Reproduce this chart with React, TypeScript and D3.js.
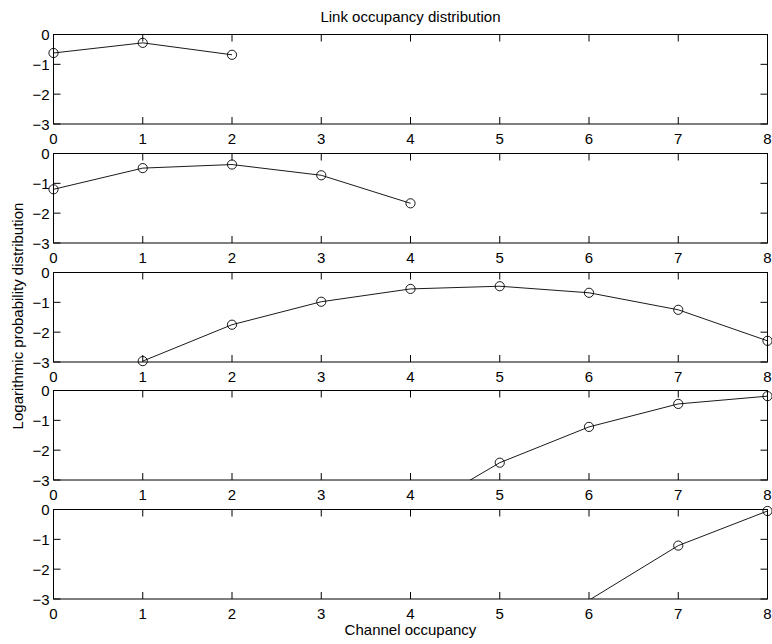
import React from 'react';
import * as d3 from 'd3';

// channel occupancy on x, log10 probability on y
const xTicks = [0, 1, 2, 3, 4, 5, 6, 7, 8];
const yTicks = [0, -1, -2, -3];

const occ1 = [0, 1, 2];
const prob1 = [-0.62, -0.28, -0.68];

const occ2 = [0, 1, 2, 3, 4];
const prob2 = [-1.2, -0.49, -0.37, -0.73, -1.67];

const occ3 = [1, 2, 3, 4, 5, 6, 7, 8];
const prob3 = [-2.97, -1.75, -0.98, -0.55, -0.46, -0.68, -1.25, -2.29];

const occ4 = [4, 5, 6, 7, 8];
const prob4 = [-4.18, -2.42, -1.22, -0.45, -0.19];

const occ5 = [6, 7, 8];
const prob5 = [-3.04, -1.21, -0.05];

const panels = [
  { xs: occ1, ys: prob1 },
  { xs: occ2, ys: prob2 },
  { xs: occ3, ys: prob3 },
  { xs: occ4, ys: prob4 },
  { xs: occ5, ys: prob5 },
];

const W = 772;
const H = 644;
const left = 53.5;
const right = 767.5;
const firstTop = 34;
const step = 118.75;
const panelH = 89.5;
const tickLen = 7;
const font = '"Liberation Sans", Arial, Helvetica, sans-serif';

const Panel: React.FC<{ idx: number; xs: number[]; ys: number[] }> = ({ idx, xs, ys }) => {
  const top = Math.round(firstTop + idx * step) + 0.5;
  const bottom = top + panelH;
  const x = d3.scaleLinear().domain([0, 8]).range([left, right]);
  const y = d3.scaleLinear().domain([-3, 0]).range([bottom, top]);
  const pts = xs.map((v, i) => [v, ys[i]] as [number, number]);
  const line = d3.line<[number, number]>()
    .x(d => x(d[0]))
    .y(d => y(d[1]));
  const clipId = `clip-${idx}`;

  return (
    <g>
      <defs>
        <clipPath id={clipId}>
          <rect x={left} y={top} width={right - left} height={bottom - top} />
        </clipPath>
      </defs>
      <rect x={left} y={top} width={right - left} height={bottom - top}
        fill="#fff" stroke="#000" strokeWidth={1} />
      {xTicks.map(t => (
        <g key={`xt${t}`}>
          <line x1={x(t)} x2={x(t)} y1={bottom} y2={bottom - tickLen} stroke="#000" />
          <line x1={x(t)} x2={x(t)} y1={top} y2={top + tickLen} stroke="#000" />
          <text x={x(t)} y={bottom + 19.5} textAnchor="middle" fontSize={15}
            fontFamily={font}>{t}</text>
        </g>
      ))}
      {yTicks.map(t => (
        <g key={`yt${t}`}>
          <line x1={left} x2={left + tickLen} y1={y(t)} y2={y(t)} stroke="#000" />
          <line x1={right} x2={right - tickLen} y1={y(t)} y2={y(t)} stroke="#000" />
          <text x={left - 4} y={y(t) + 5.5} textAnchor="end" fontSize={15}
            fontFamily={font}>{t < 0 ? `\u2212${-t}` : t}</text>
        </g>
      ))}
      <path d={line(pts) ?? ''} fill="none" stroke="#000" strokeWidth={0.9}
        clipPath={`url(#${clipId})`} />
      {pts.filter(d => d[1] >= -3 && d[1] <= 0).map((d, i) => (
        <circle key={i} cx={x(d[0])} cy={y(d[1])} r={4.6}
          fill="none" stroke="#000" strokeWidth={0.9} />
      ))}
    </g>
  );
};

export default function App() {
  return (
    <svg width={W} height={H} style={{ position: 'absolute', left: 0, top: 0, background: '#fff' }}>
      <rect width={W} height={H} fill="#fff" />
      {panels.map((p, i) => (
        <Panel key={i} idx={i} xs={p.xs} ys={p.ys} />
      ))}
      <text x={(left + right) / 2} y={22} textAnchor="middle" fontSize={15}
        fontFamily={font}>Link occupancy distribution</text>
      <text x={(left + right) / 2} y={635} textAnchor="middle" fontSize={15}
        fontFamily={font}>Channel occupancy</text>
      <text transform={`translate(23,316) rotate(-90)`} textAnchor="middle" fontSize={15}
        fontFamily={font}>Logarithmic probability distribution</text>
    </svg>
  );
}
